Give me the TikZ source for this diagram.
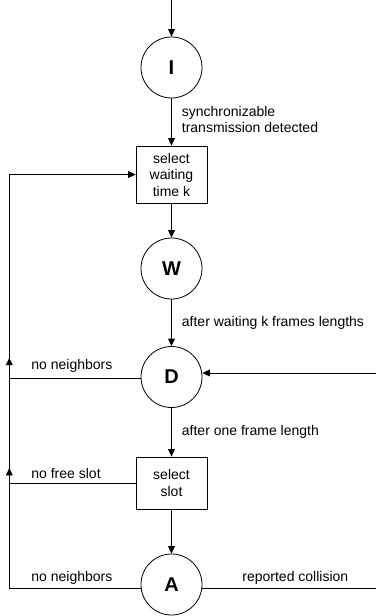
\documentclass[tikz,border=0pt]{standalone}
\usepackage{fontspec}
\setmainfont{Liberation Sans}
\usetikzlibrary{arrows.meta}

\begin{document}
\begin{tikzpicture}[x=1bp, y=-1bp,
  line width=0.8bp,
  every node/.style={font=\fontsize{14bp}{16.5bp}\selectfont},
  arr/.style={-{Triangle[length=7.5bp,width=6.8bp]}},
  state/.style={draw, circle, minimum size=61bp, inner sep=0pt,
    font=\fontsize{20bp}{24bp}\selectfont\bfseries},
  action/.style={draw, rectangle, align=center, inner sep=0pt,
    minimum width=71bp},
  lbl/.style={anchor=base west, inner sep=0pt, align=left}
]
\useasboundingbox (0,0) rectangle (376,616);

% states and actions
\node[state] (I) at (171.5,67.5) {I};
\node[action, minimum height=57bp] (wait) at (171.5,174.5) {select\\waiting\\time k};
\node[state] (W) at (171.5,268.5) {W};
\node[state] (D) at (171.5,377) {D};
\node[action, minimum height=52bp] (slot) at (171.5,483) {select\\slot};
\node[state] (A) at (171.5,584.5) {A};

% free ends of connectors
\coordinate (start) at (171.5,0);
\coordinate (dIn) at (376,373);
\coordinate (aOut) at (376,588);
\coordinate (back) at (9.3,0);

% main flow
\draw[arr] (start) -- (I);
\draw[arr] (I) -- (wait);
\draw[arr] (wait) -- (W);
\draw[arr] (W) -- (D);
\draw[arr] (D) -- (slot);
\draw[arr] (slot) -- (A);
\draw[arr] (dIn) -- (dIn -| D.east);
\draw (A.353) -- (A.353 -| aOut);

% return paths on the left
\draw[arr] (A.187) -- (A.187 -| back) -- ++(0,-120.3);
\draw[arr] (slot.west) -- (slot.west -| back) -- ++(0,-125.3);
\draw[arr] (D.182) -- (D.182 -| back) -- (back |- wait) -- (wait.west);

% labels (base anchor of a two-line label sits on its last line)
\node[lbl] at (181.5,133) {synchronizable\\transmission detected};
\node[lbl] at (181.5,326) {after waiting k frames lengths};
\node[lbl] at (31,369) {no neighbors};
\node[lbl] at (181.5,435) {after one frame length};
\node[lbl] at (31,478) {no free slot};
\node[lbl] at (31,581) {no neighbors};
\node[lbl] at (242,581) {reported collision};
\end{tikzpicture}
\end{document}
